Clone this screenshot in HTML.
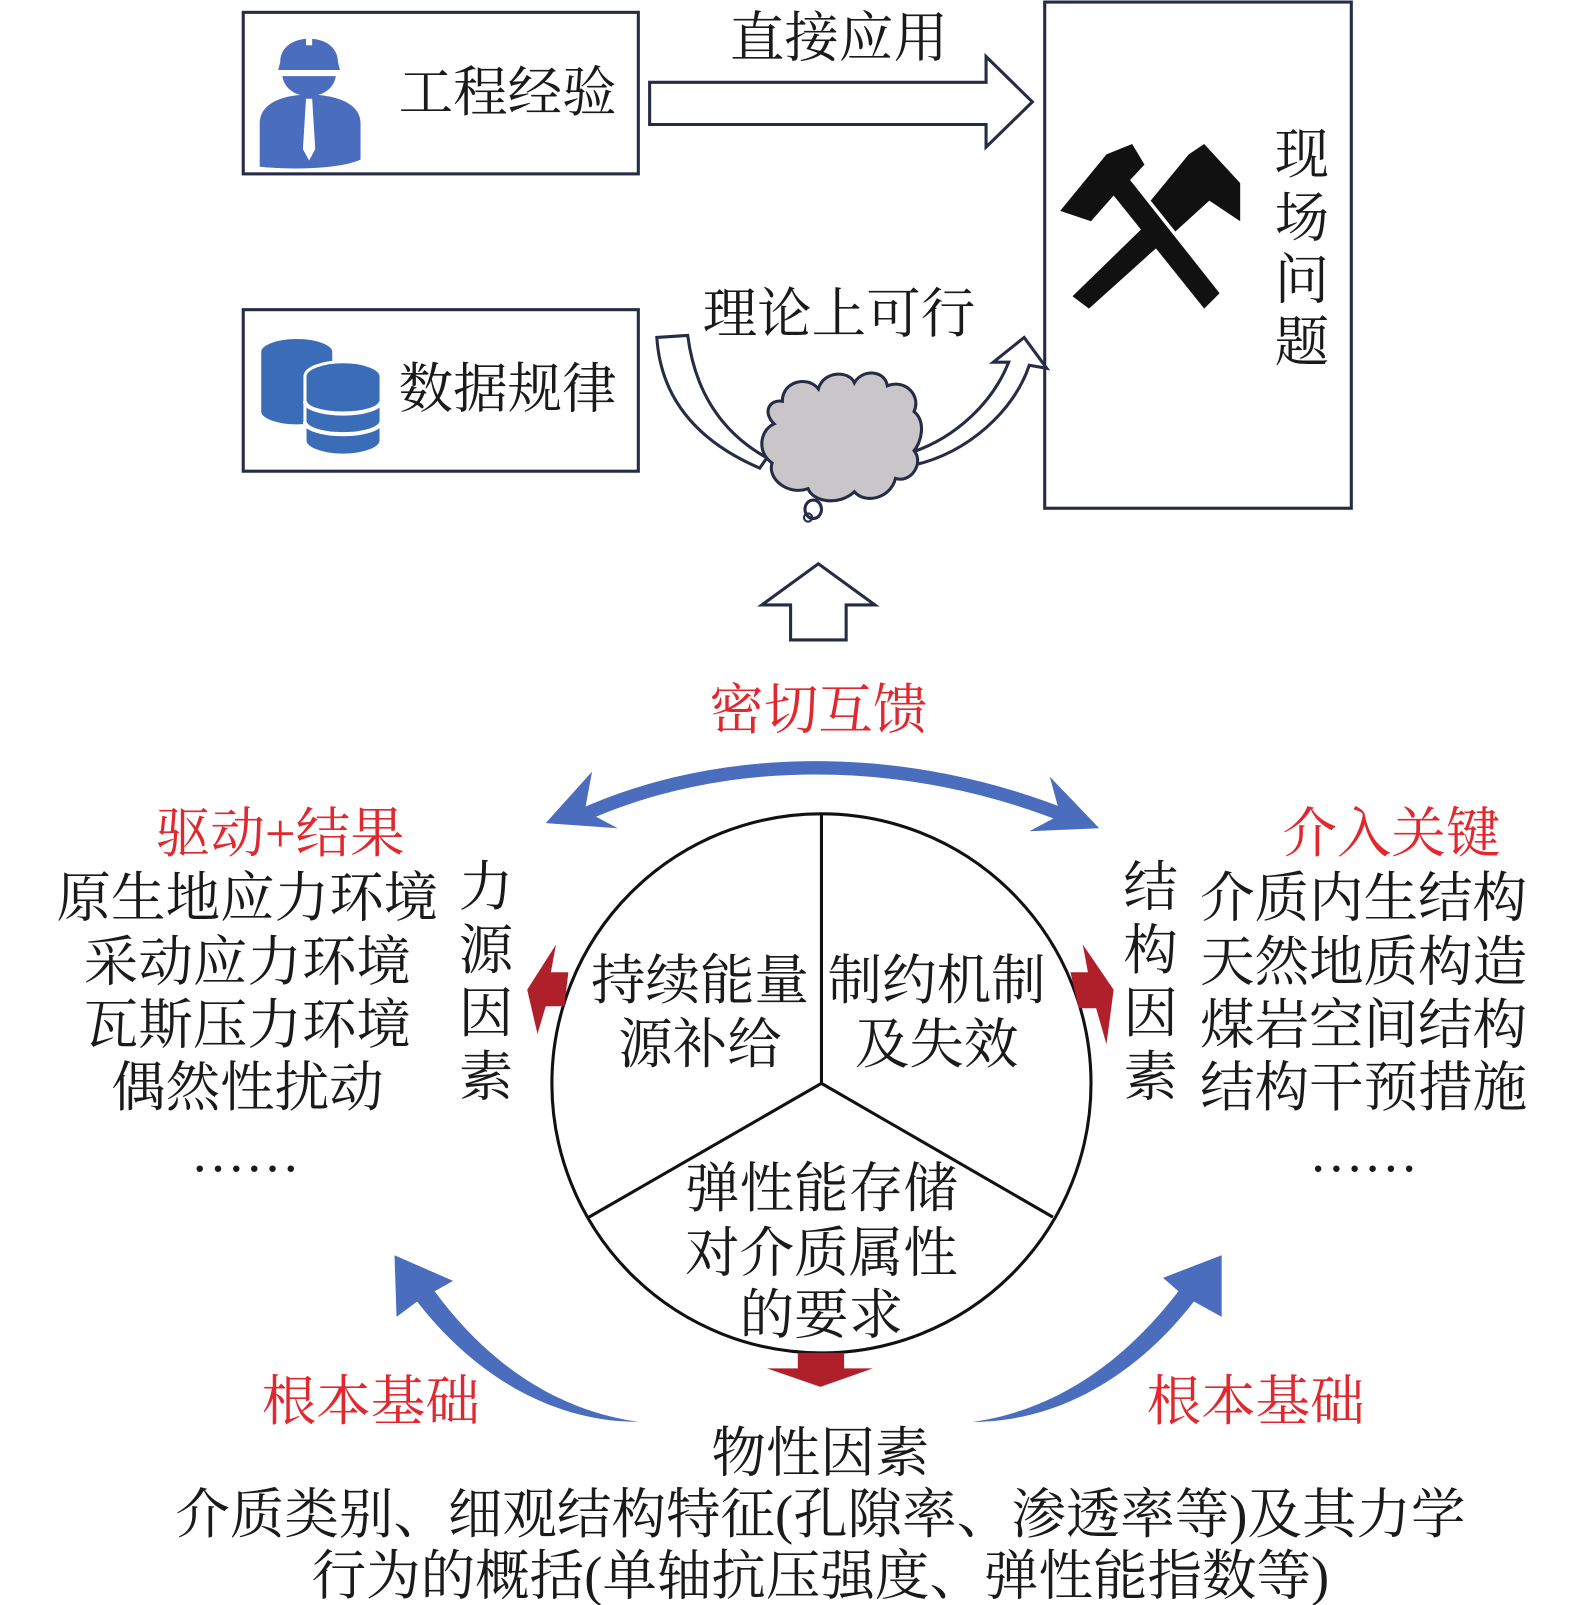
<!DOCTYPE html>
<html><head><meta charset="utf-8"><style>
html,body{margin:0;padding:0;background:#fff;}
svg{display:block;}
text{font-family:"Liberation Serif","Noto Serif CJK SC",serif;font-size:53px;fill:#1a1a1a;}
.r{fill:#e0282e;}
</style></head><body>
<svg width="1575" height="1605" viewBox="0 0 1530 1560" xmlns="http://www.w3.org/2000/svg">
<g fill="none" stroke="#262c45" stroke-width="3">
<rect x="236" y="12" width="384" height="157"/>
<rect x="236" y="301" width="384" height="157"/>
<rect x="1015" y="2" width="298" height="492"/>
<path d="M631,80 L958,80 L958,55 L1003,99 L958,143 L958,121 L631,121 Z" fill="#fff"/>
<path d="M740,588 L795,548 L850,588 L822,588 L822,622 L768,622 L768,588 Z" fill="#fff"/>
<path d="M638,328 L668,326 C675,380 700,420 745,445 L738,455 C680,430 642,390 638,328 Z" fill="#fff"/>
<path d="M885,440 C930,425 965,390 980,352 L965,352 L995,328 L1017,358 L1000,355 C985,400 940,440 888,452 Z" fill="#fff"/>
</g>
<path d="M760,390 C760,370 785,365 795,378 C800,360 825,360 830,372 C838,358 860,360 862,375 C880,368 895,385 888,400 C900,410 895,430 888,438 C898,450 885,470 870,465 C865,485 840,490 830,478 C815,492 790,488 785,475 C765,482 745,465 750,450 C735,440 738,418 752,412 C740,400 748,388 760,390 Z" fill="#c8c6c8" stroke="#262c45" stroke-width="3"/>
<ellipse cx="790" cy="495" rx="8" ry="9" fill="none" stroke="#262c45" stroke-width="3"/>
<circle cx="785" cy="503" r="4" fill="none" stroke="#262c45" stroke-width="2"/>
<g fill="#4a6dbd">
<path d="M272,60 C272,30 328,30 328,60 L330,68 L270,68 Z"/>
<path d="M274,74 L326,74 C322,100 278,100 274,74 Z"/>
<path d="M252,162 L252,120 C252,100 275,92 300,92 C325,92 350,100 350,120 L350,155 C330,165 275,165 252,162 Z"/>
</g>
<path d="M297,96 L303,96 L306,145 L300,156 L294,145 Z" fill="#fff"/>
<rect x="297" y="24" width="6" height="20" fill="#fff"/>
<g fill="#3b6cb8" stroke="#fff" stroke-width="3">
<path d="M252,342 A36,14 0 0 1 324,342 L324,400 A36,14 0 0 1 252,400 Z"/>
<path d="M296,366 A36,14 0 0 1 370,366 L370,428 A36,14 0 0 1 296,428 Z"/>
</g>
<g fill="none" stroke="#fff" stroke-width="4">
<path d="M296,390 A37,12 0 0 0 370,390"/><path d="M296,410 A37,12 0 0 0 370,410"/>
</g>
<!-- hammers -->
<g fill="#111">
<path d="M1042,288 L1120,212 L1138,228 L1058,300 Z"/>
<path d="M1030,205 L1075,150 L1100,140 L1112,160 L1098,175 L1185,285 L1170,300 L1082,190 L1060,215 Z"/>
<path d="M1118,195 L1155,150 L1170,140 L1205,178 L1205,215 L1175,195 L1142,225 Z"/>
</g>
<text x="815" y="55" text-anchor="middle">直接应用</text>
<text x="493" y="108" text-anchor="middle">工程经验</text>
<text x="493" y="396" text-anchor="middle">数据规律</text>
<text x="815" y="323" text-anchor="middle">理论上可行</text>
<g text-anchor="middle"><text x="1265" y="168">现</text><text x="1265" y="230">场</text><text x="1265" y="290">问</text><text x="1265" y="351">题</text></g>
<text class="r" x="795" y="708" text-anchor="middle">密切互馈</text>
<path d="M560,795 C700,730 880,730 1040,795" fill="none" stroke="#4a6dbd" stroke-width="13"/>
<path d="M530,800 L575,750 L568,788 L600,805 Z" fill="#4a6dbd"/>
<path d="M1068,805 L1020,755 L1030,792 L1000,808 Z" fill="#4a6dbd"/>
<g fill="none" stroke="#111" stroke-width="3">
<circle cx="798" cy="1053" r="262"/>
<path d="M798,791 L798,1053 L572,1183 M798,1053 L1023,1183"/>
</g>
<text x="680" y="971" text-anchor="middle">持续能量</text>
<text x="680" y="1033" text-anchor="middle">源补给</text>
<text x="910" y="971" text-anchor="middle">制约机制</text>
<text x="910" y="1033" text-anchor="middle">及失效</text>
<text x="798" y="1173" text-anchor="middle">弹性能存储</text>
<text x="798" y="1236" text-anchor="middle">对介质属性</text>
<text x="798" y="1296" text-anchor="middle">的要求</text>
<!-- red arrows -->
<path d="M552,945 L535,945 L540,918 L512,962 L522,1005 L530,978 L548,978 Z" fill="#b0202a"/>
<path d="M1040,945 L1057,945 L1052,918 L1082,962 L1075,1015 L1065,980 L1048,980 Z" fill="#b0202a"/>
<path d="M775,1315 L820,1315 L820,1330 L848,1330 L797,1348 L745,1330 L775,1330 Z" fill="#b0202a"/>
<text class="r" x="272" y="828" text-anchor="middle">驱动+结果</text>
<g text-anchor="middle">
<text x="240" y="891">原生地应力环境</text>
<text x="240" y="953">采动应力环境</text>
<text x="240" y="1014">瓦斯压力环境</text>
<text x="240" y="1075">偶然性扰动</text>
<text x="238" y="1138">……</text>
<text x="472" y="880">力</text><text x="472" y="942">源</text><text x="472" y="1003">因</text><text x="472" y="1065">素</text>
<text x="1118" y="880">结</text><text x="1118" y="942">构</text><text x="1118" y="1003">因</text><text x="1118" y="1065">素</text>
<text class="r" x="1352" y="828">介入关键</text>
<text x="1325" y="891">介质内生结构</text>
<text x="1325" y="953">天然地质构造</text>
<text x="1325" y="1014">煤岩空间结构</text>
<text x="1325" y="1075">结构干预措施</text>
<text x="1325" y="1138">……</text>
<text class="r" x="360" y="1380">根本基础</text>
<text class="r" x="1220" y="1380">根本基础</text>
<text x="797" y="1430">物性因素</text>
<text x="797" y="1490">介质类别、细观结构特征(孔隙率、渗透率等)及其力学</text>
<text x="797" y="1550">行为的概括(单轴抗压强度、弹性能指数等)</text>
</g>
<path d="M620,1382 C530,1382 455,1330 405,1265 L385,1280 L383,1220 L440,1245 L422,1255 C470,1320 535,1370 620,1382 Z" fill="#4a6dbd"/>
<path d="M945,1382 C1035,1382 1110,1330 1160,1265 L1187,1280 L1187,1220 L1130,1242 L1145,1255 C1095,1320 1030,1370 945,1382 Z" fill="#4a6dbd"/>
</svg>
</body></html>
